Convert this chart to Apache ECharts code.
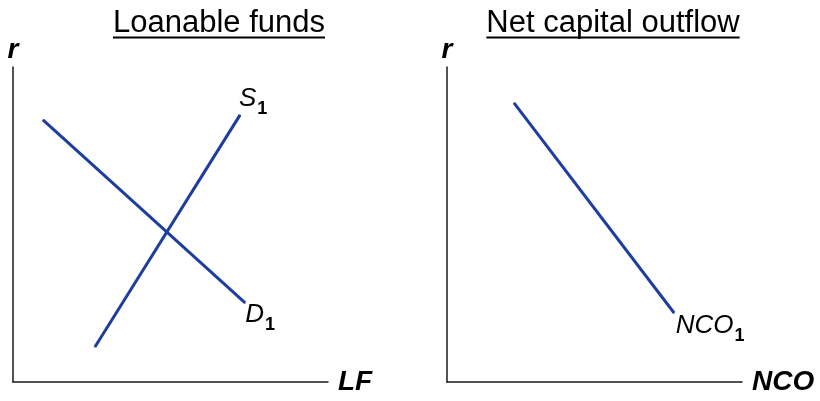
<!DOCTYPE html>
<html>
<head>
<meta charset="utf-8">
<script src="https://cdn.jsdelivr.net/npm/echarts@6/dist/echarts.min.js"></script>
<style>
html,body{margin:0;padding:0;background:#fff;}
#c{width:820px;height:401px;}
</style>
</head>
<body>
<div id="c"></div>
<script>
// ---- data ----
const titles = ['Loanable funds', 'Net capital outflow'];
const axisNamesY = ['r', 'r'];
const axisNamesX = ['LF', 'NCO'];
const supplyLF = [[26.0, 11.1], [72.1, 84.8]];
const demandLF = [[9.5, 83.2], [73.7, 25.1]];
const ncoCurve = [[22.7, 88.6], [77.0, 21.9]];
const curveLabels = ['S', 'D', 'NCO'];
const curveSubs = ['1', '1', '1'];

const FONT = 'Liberation Sans';
const BLUE = '#1d3d9f';
const AXIS = '#1a1a1a';

function labelFor(i, pos, offset) {
  return {
    show: true,
    position: pos,
    distance: 0,
    offset: offset,
    formatter: '{m|' + curveLabels[i] + '}{s|' + curveSubs[i] + '}',
    rich: {
      m: { fontFamily: FONT, fontSize: 26, fontStyle: 'italic', color: '#000', verticalAlign: 'top' },
      s: { fontFamily: FONT, fontSize: 18, fontWeight: 'bold', color: '#000', verticalAlign: 'top', padding: [15, 0, 0, 1] }
    }
  };
}

function pts(arr, labelIdx, labelEnd, pos, offset) {
  return arr.map((p, k) => {
    const d = { value: p };
    if (k === labelEnd) d.label = labelFor(labelIdx, pos, offset);
    return d;
  });
}

const grids = [
  { left: 13, top: 67, width: 315, height: 315 },
  { left: 447, top: 67, width: 295, height: 315 }
];

function xAx(i) {
  return {
    gridIndex: i, type: 'value', min: 0, max: 100,
    name: axisNamesX[i], nameLocation: 'end', nameGap: 10,
    nameTextStyle: { fontFamily: FONT, fontSize: 28, fontWeight: 'bold', fontStyle: 'italic', color: '#000' },
    axisLine: { show: true, lineStyle: { color: AXIS, width: 1.5 } },
    axisTick: { show: false }, axisLabel: { show: false }, splitLine: { show: false }
  };
}
function yAx(i) {
  return {
    gridIndex: i, type: 'value', min: 0, max: 100,
    name: axisNamesY[i], nameLocation: 'end', nameGap: 3,
    nameTextStyle: { fontFamily: FONT, fontSize: 28, fontWeight: 'bold', fontStyle: 'italic', color: '#000' },
    axisLine: { show: true, lineStyle: { color: AXIS, width: 1.5 } },
    axisTick: { show: false }, axisLabel: { show: false }, splitLine: { show: false }
  };
}

function lineSeries(i, data) {
  return {
    type: 'line', xAxisIndex: i, yAxisIndex: i, data: data,
    symbol: 'circle', symbolSize: 1, showSymbol: true,
    itemStyle: { color: BLUE },
    lineStyle: { color: BLUE, width: 3 },
    silent: true, animation: false
  };
}

// measure title widths for the underline
const cv = document.createElement('canvas').getContext('2d');
const TFONT = '31px "' + FONT + '"';
cv.font = TFONT;
const titleCx = [219, 613];
const graphics = [];
titles.forEach((t, i) => {
  const w = cv.measureText(t).width;
  graphics.push({
    type: 'text', x: titleCx[i], y: 23,
    style: { text: t, font: TFONT, fill: '#000', textAlign: 'center', textVerticalAlign: 'middle' }
  });
  graphics.push({
    type: 'line', shape: { x1: titleCx[i] - w / 2, y1: 37.5, x2: titleCx[i] + w / 2, y2: 37.5 },
    style: { stroke: '#000', lineWidth: 2 }
  });
});

const chart = echarts.init(document.getElementById('c'), null, { renderer: 'canvas' });
chart.setOption({
  animation: false,
  backgroundColor: '#fff',
  grid: grids,
  xAxis: [xAx(0), xAx(1)],
  yAxis: [yAx(0), yAx(1)],
  graphic: graphics,
  series: [
    lineSeries(0, pts(supplyLF, 0, 1, 'top', [13, 4])),
    lineSeries(0, pts(demandLF, 1, 1, 'bottom', [15, -2])),
    lineSeries(1, pts(ncoCurve, 2, 1, 'bottom', [36, -1]))
  ]
});
</script>
</body>
</html>
